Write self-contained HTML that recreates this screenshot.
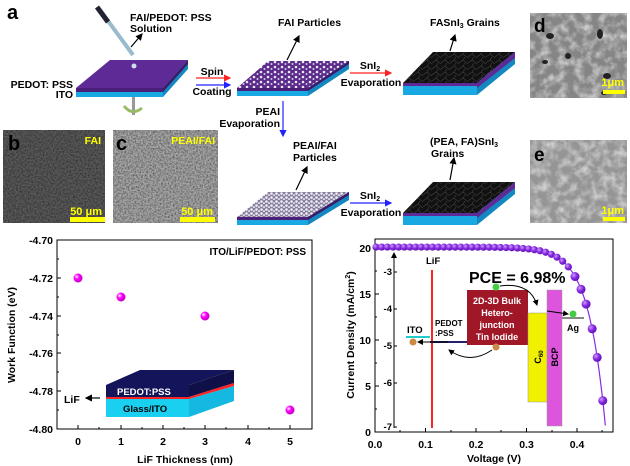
<!DOCTYPE html>
<html><head><meta charset="utf-8">
<style>
html,body{margin:0;padding:0;background:#fff;}
svg{display:block;font-family:"Liberation Sans",Arial,sans-serif;font-weight:bold;}
</style></head><body>
<svg id="s" width="630" height="466" viewBox="0 0 630 466" xmlns="http://www.w3.org/2000/svg">
<defs>
<filter id="noise" x="0" y="0" width="100%" height="100%">
<feTurbulence type="fractalNoise" baseFrequency="0.6" numOctaves="2" seed="3"/>
<feColorMatrix type="matrix" values="0 0 0 0 0  0 0 0 0 0  0 0 0 0 0  0 0 0 -0.9 0.6"/>
<feComposite in2="SourceGraphic" operator="in"/>
</filter>
<filter id="noise2" x="0" y="0" width="100%" height="100%">
<feTurbulence type="fractalNoise" baseFrequency="0.12" numOctaves="3" seed="7"/>
<feColorMatrix type="matrix" values="0 0 0 0 1  0 0 0 0 1  0 0 0 0 1  0 0 0 1.2 -0.45"/>
<feComposite in2="SourceGraphic" operator="in"/>
</filter>
<pattern id="pp" width="7" height="5" patternUnits="userSpaceOnUse">
<rect width="7" height="5" fill="#5b2a8c"/>
<circle cx="2" cy="2" r="1.3" fill="#e8e8f0"/><circle cx="5.5" cy="4" r="1" fill="#cfcfdf"/>
</pattern>
<pattern id="pp2" width="5" height="4" patternUnits="userSpaceOnUse">
<rect width="5" height="4" fill="#8a7fa0"/>
<circle cx="1.5" cy="1.5" r="1.3" fill="#f0f0f4"/><circle cx="4" cy="3.2" r="1.1" fill="#dcdce6"/>
</pattern>
<pattern id="gr" width="9" height="6" patternUnits="userSpaceOnUse">
<rect width="9" height="6" fill="#111"/>
<path d="M0 3 L4 0 M4 0 L9 4 M4 6 L6 3" stroke="#555" stroke-width="0.5" fill="none"/>
</pattern>
<marker id="ak" markerWidth="6" markerHeight="6" refX="5" refY="3" orient="auto"><path d="M0 0 L6 3 L0 6z" fill="#000"/></marker>
<marker id="ar" markerWidth="6" markerHeight="6" refX="5" refY="3" orient="auto"><path d="M0 0 L6 3 L0 6z" fill="#f22"/></marker>
<marker id="ab" markerWidth="6" markerHeight="6" refX="5" refY="3" orient="auto"><path d="M0 0 L6 3 L0 6z" fill="#22f"/></marker>
<radialGradient id="sph" cx="0.35" cy="0.35" r="0.7"><stop offset="0" stop-color="#fff"/><stop offset="0.4" stop-color="#f0f"/><stop offset="1" stop-color="#b0b"/></radialGradient>
<radialGradient id="vio" cx="0.35" cy="0.35" r="0.7"><stop offset="0" stop-color="#c9a0ff"/><stop offset="0.5" stop-color="#8a2be2"/><stop offset="1" stop-color="#5a10b0"/></radialGradient>
</defs>

<!-- ===== Panel a ===== -->
<text x="7" y="19" font-size="20">a</text>
<polygon points="76,88 110,60 188,60 163,88" fill="#5e2a95"/>
<rect x="76" y="88" width="87" height="4" fill="#4a1f7a"/>
<rect x="76" y="92" width="87" height="5" fill="#19a9e2"/>
<polygon points="163,88 188,60 188,69 163,97" fill="#1388c0"/>
<polygon points="163,88 188,60 188,64 163,92" fill="#3c1a6a"/>
<line x1="100" y1="10" x2="133" y2="55" stroke="#9bc" stroke-width="4"/>
<line x1="97" y1="7" x2="108" y2="22" stroke="#223" stroke-width="5"/>
<circle cx="134" cy="66" r="2.5" fill="#cde"/>
<rect x="132" y="97" width="3" height="18" fill="#999"/>
<path d="M124 106 Q132 116 142 108" stroke="#9b6" stroke-width="3" fill="none"/>
<line x1="131" y1="47" x2="142" y2="34" stroke="#000" stroke-width="1.2" marker-end="url(#ak)"/>
<text x="130" y="21" font-size="10.5">FAI/PEDOT: PSS</text>
<text x="130" y="32" font-size="10.5">Solution</text>
<text x="73" y="88" font-size="10.5" text-anchor="end">PEDOT: PSS</text>
<text x="73" y="98" font-size="10.5" text-anchor="end">ITO</text>
<text x="212" y="75" font-size="10.5" text-anchor="middle">Spin</text>
<line x1="196" y1="78" x2="230" y2="78" stroke="#f22" stroke-width="1.2" marker-end="url(#ar)"/>
<line x1="196" y1="85" x2="230" y2="85" stroke="#22f" stroke-width="1.2" marker-end="url(#ab)"/>
<text x="212" y="95" font-size="10.5" text-anchor="middle">Coating</text>
<polygon points="237,88 268,61 349,61 308,88" fill="url(#pp)"/>
<rect x="237" y="88" width="71" height="3" fill="#4a1f7a"/>
<rect x="237" y="91" width="71" height="5" fill="#19a9e2"/>
<polygon points="308,88 349,61 349,69 308,96" fill="#1388c0"/>
<polygon points="308,88 349,61 349,64 308,91" fill="#3c1a6a"/>
<line x1="287" y1="60" x2="299" y2="36" stroke="#000" stroke-width="1.2" marker-end="url(#ak)"/>
<text x="278" y="26" font-size="10.5">FAI Particles</text>
<line x1="283" y1="101" x2="283" y2="136" stroke="#22f" stroke-width="1.2" marker-end="url(#ab)"/>
<text x="280" y="115" font-size="10.5" text-anchor="end">PEAI</text>
<text x="280" y="127" font-size="10.5" text-anchor="end">Evaporation</text>
<polygon points="237,217 268,192 349,192 308,217" fill="url(#pp2)"/>
<rect x="237" y="217" width="71" height="3" fill="#4a1f7a"/>
<rect x="237" y="220" width="71" height="5" fill="#19a9e2"/>
<polygon points="308,217 349,192 349,200 308,225" fill="#1388c0"/>
<polygon points="308,217 349,192 349,195 308,220" fill="#3c1a6a"/>
<line x1="296" y1="190" x2="307" y2="167" stroke="#000" stroke-width="1.2" marker-end="url(#ak)"/>
<text x="293" y="149" font-size="10.5">PEAI/FAI</text>
<text x="293" y="161" font-size="10.5">Particles</text>
<text x="370" y="69" font-size="10.5" text-anchor="middle">SnI<tspan font-size="7" dy="2">2</tspan></text>
<line x1="350" y1="73" x2="391" y2="73" stroke="#f22" stroke-width="1.2" marker-end="url(#ar)"/>
<text x="371" y="86" font-size="10.5" text-anchor="middle">Evaporation</text>
<text x="370" y="199" font-size="10.5" text-anchor="middle">SnI<tspan font-size="7" dy="2">2</tspan></text>
<line x1="350" y1="203" x2="391" y2="203" stroke="#22f" stroke-width="1.2" marker-end="url(#ab)"/>
<text x="371" y="216" font-size="10.5" text-anchor="middle">Evaporation</text>
<polygon points="403,83 433,52 515,52 477,83" fill="url(#gr)"/>
<rect x="403" y="83" width="74" height="3" fill="#5e2a95"/>
<rect x="403" y="86" width="74" height="9" fill="#19a9e2"/>
<polygon points="477,83 515,52 515,64 477,95" fill="#1388c0"/>
<polygon points="477,83 515,52 515,58 477,88" fill="#5e2a95"/>
<line x1="450" y1="51" x2="455" y2="35" stroke="#000" stroke-width="1.2" marker-end="url(#ak)"/>
<text x="430" y="26" font-size="10.5">FASnI<tspan font-size="7" dy="2">3</tspan><tspan dy="-2"> Grains</tspan></text>
<polygon points="403,213 433,182 515,182 477,213" fill="url(#gr)"/>
<rect x="403" y="213" width="74" height="3" fill="#5e2a95"/>
<rect x="403" y="216" width="74" height="9" fill="#19a9e2"/>
<polygon points="477,213 515,182 515,194 477,225" fill="#1388c0"/>
<polygon points="477,213 515,182 515,188 477,218" fill="#5e2a95"/>
<line x1="450" y1="180" x2="454" y2="158" stroke="#000" stroke-width="1.2" marker-end="url(#ak)"/>
<text x="430" y="145" font-size="10.5">(PEA, FA)SnI<tspan font-size="7" dy="2">3</tspan></text>
<text x="431" y="157" font-size="10.5">Grains</text>
<!-- SEM images -->
<rect x="3" y="130" width="102" height="93" fill="#5a5a5a"/>
<rect x="3" y="130" width="102" height="93" fill="#5a5a5a" filter="url(#noise)"/>
<rect x="113" y="130" width="105" height="93" fill="#a8a8a8"/>
<rect x="113" y="130" width="105" height="93" fill="#a8a8a8" filter="url(#noise)"/>
<rect x="530" y="13" width="97" height="85" fill="#858585"/>
<rect x="530" y="13" width="97" height="85" fill="#858585" filter="url(#noise2)"/>
<rect x="530" y="140" width="97" height="83" fill="#959595"/>
<rect x="530" y="140" width="97" height="83" fill="#959595" filter="url(#noise2)"/>
<g fill="#222"><ellipse cx="550" cy="36" rx="4" ry="3"/><ellipse cx="600" cy="34" rx="3" ry="5"/><ellipse cx="545" cy="62" rx="3" ry="2"/><ellipse cx="568" cy="56" rx="3" ry="3"/><ellipse cx="607" cy="76" rx="4" ry="3"/><ellipse cx="604" cy="93" rx="3" ry="2"/></g>
<text x="8" y="150" font-size="20">b</text>
<text x="116" y="150" font-size="20">c</text>
<text x="534" y="32" font-size="19">d</text>
<text x="534" y="161" font-size="19">e</text>
<g fill="#ff0">
<text x="101" y="144" font-size="10.5" text-anchor="end">FAI</text>
<text x="215" y="144" font-size="10.5" text-anchor="end">PEAI/FAI</text>
<text x="102" y="215" font-size="11" text-anchor="end">50 μm</text>
<rect x="70" y="217" width="35" height="5"/>
<text x="213" y="215" font-size="11" text-anchor="end">50 μm</text>
<rect x="180" y="217" width="35" height="5"/>
<text x="624" y="86" font-size="11" text-anchor="end">1μm</text>
<rect x="603" y="90" width="22" height="4"/>
<text x="624" y="214" font-size="11" text-anchor="end">1μm</text>
<rect x="603" y="217" width="22" height="4"/>
</g>

<!-- ===== Left plot ===== -->
<g stroke="#000" stroke-width="1" fill="none">
<rect x="57" y="240" width="255" height="189"/>
<path d="M78 429v-4M121 429v-4M163 429v-4M205 429v-4M248 429v-4M290 429v-4M99 429v-2M142 429v-2M184 429v-2M226 429v-2M269 429v-2"/>
<path d="M57 240h4M57 278h4M57 316h4M57 353h4M57 391h4M57 429h4M57 259h2M57 297h2M57 335h2M57 372h2M57 410h2"/>
</g>
<g font-size="10.5" text-anchor="end">
<text x="53" y="244">-4.70</text><text x="53" y="282">-4.72</text><text x="53" y="320">-4.74</text><text x="53" y="357">-4.76</text><text x="53" y="395">-4.78</text><text x="53" y="433">-4.80</text>
</g>
<g font-size="10.5" text-anchor="middle">
<text x="78" y="445">0</text><text x="121" y="445">1</text><text x="163" y="445">2</text><text x="205" y="445">3</text><text x="248" y="445">4</text><text x="290" y="445">5</text>
<text x="185" y="463">LiF Thickness (nm)</text>
</g>
<text transform="translate(15,335) rotate(-90)" font-size="10.5" text-anchor="middle">Work Function (eV)</text>
<text x="306" y="255" font-size="10" text-anchor="end">ITO/LiF/PEDOT: PSS</text>
<g fill="url(#sph)"><circle cx="78" cy="278" r="4.5"/><circle cx="121" cy="297" r="4.5"/><circle cx="205" cy="316" r="4.5"/><circle cx="290" cy="410" r="4.5"/></g>
<polygon points="106,385 140,370 234,370 189,385" fill="#14145a"/>
<rect x="106" y="385" width="83" height="12" fill="#14145a"/>
<rect x="106" y="397" width="83" height="2" fill="#f22"/>
<rect x="106" y="399" width="83" height="18" fill="#19d0f0"/>
<polygon points="189,385 234,370 234,383 189,397" fill="#101048"/>
<polygon points="189,397 234,383 234,386 189,399" fill="#f22"/>
<polygon points="189,399 234,386 234,401 189,417" fill="#14b8e0"/>
<text x="117" y="395" font-size="9.5" fill="#fff">PEDOT:PSS</text>
<text x="123" y="412" font-size="9.5" fill="#000">Glass/ITO</text>
<text x="64" y="403" font-size="10.5">LiF</text>
<line x1="100" y1="398" x2="86" y2="398" stroke="#000" stroke-width="1.2" marker-end="url(#ak)"/>

<!-- ===== Right plot ===== -->
<g stroke="#000" stroke-width="1" fill="none">
<rect x="375" y="239" width="238" height="193"/>
<path d="M375 432v-4M425.5 432v-4M476 432v-4M526.5 432v-4M577 432v-4M400 432v-2M451 432v-2M501 432v-2M552 432v-2M602 432v-2"/>
<path d="M375 248h4M375 294h4M375 340h4M375 386h4M375 432h4M375 271h2M375 317h2M375 363h2M375 409h2"/>
</g>
<g font-size="10.5" text-anchor="end">
<text x="371" y="252">20</text><text x="371" y="298">15</text><text x="371" y="344">10</text><text x="371" y="390">5</text><text x="371" y="436">0</text>
</g>
<g font-size="10.5" text-anchor="middle">
<text x="375" y="448">0.0</text><text x="425.5" y="448">0.1</text><text x="476" y="448">0.2</text><text x="526.5" y="448">0.3</text><text x="577" y="448">0.4</text>
<text x="494" y="462">Voltage (V)</text>
</g>
<text transform="translate(354,335) rotate(-90)" font-size="10.5" text-anchor="middle">Current Density (mA/cm<tspan font-size="7" dy="-4">2</tspan><tspan dy="4">)</tspan></text>
<line x1="394" y1="428" x2="394" y2="253" stroke="#000" stroke-width="1" marker-end="url(#ak)"/>
<g stroke="#000"><path d="M394 272h3M394 309h3M394 346h3M394 383h3M394 427h3"/></g>
<g font-size="9.5" text-anchor="end">
<text x="392" y="275">-3</text><text x="392" y="312">-4</text><text x="392" y="349">-5</text><text x="392" y="386">-6</text><text x="392" y="430">-7</text>
</g>
<line x1="432" y1="270" x2="432" y2="428" stroke="#f22" stroke-width="2"/>
<text x="426" y="264" font-size="9.5">LiF</text>
<line x1="406" y1="337" x2="430" y2="337" stroke="#2cc" stroke-width="2"/>
<text x="407" y="333" font-size="9.5">ITO</text>
<line x1="430" y1="342" x2="468" y2="342" stroke="#22226a" stroke-width="2"/>
<text x="435" y="326" font-size="8">PEDOT</text>
<text x="435" y="336" font-size="8">:PSS</text>
<rect x="467" y="290" width="61" height="55" fill="#a01828"/>
<g font-size="9" fill="#fff" text-anchor="middle">
<text x="497" y="304">2D-3D Bulk</text><text x="497" y="316">Hetero-</text><text x="497" y="328">junction</text><text x="497" y="340">Tin Iodide</text>
</g>
<rect x="528" y="313" width="19" height="89" fill="#f0f000" stroke="#999" stroke-width="0.5"/>
<rect x="547" y="290" width="15" height="136" fill="#dd55dd" stroke="#999" stroke-width="0.5"/>
<text transform="translate(541,357) rotate(-90)" font-size="9" text-anchor="middle">C<tspan font-size="6" dy="2">60</tspan></text>
<text transform="translate(558,357) rotate(-90)" font-size="9" text-anchor="middle">BCP</text>
<line x1="562" y1="318" x2="584" y2="318" stroke="#888" stroke-width="2"/>
<text x="567" y="331" font-size="9">Ag</text>
<text x="469" y="283" font-size="16">PCE = 6.98%</text>
<circle cx="496" cy="287" r="3.5" fill="#4c4"/><circle cx="573" cy="314" r="3.5" fill="#4c4"/>
<circle cx="496" cy="347" r="3.5" fill="#c84"/><circle cx="413" cy="342" r="3.5" fill="#c84"/>
<path d="M500 286 Q530 282 537 305" stroke="#000" fill="none" marker-end="url(#ak)"/>
<line x1="547" y1="311" x2="568" y2="314" stroke="#000" marker-end="url(#ak)"/>
<path d="M492 350 Q470 365 449 350" stroke="#000" fill="none" marker-end="url(#ak)"/>
<line x1="448" y1="342" x2="418" y2="342" stroke="#000" marker-end="url(#ak)"/>
<g id="jv"></g>
</svg>
<script>
(function(){
var g=document.getElementById('jv'),ns='http://www.w3.org/2000/svg';
function J(v){return 20.1-3.2*Math.exp((v-0.396)/0.0333);}
var pts=[];for(var v=0;v<=0.462;v+=0.002){var j=J(v);if(j<0)break;pts.push((375+v*505).toFixed(1)+','+(432-j*9.2).toFixed(1));}
var pl=document.createElementNS(ns,'polyline');pl.setAttribute('points',pts.join(' '));pl.setAttribute('fill','none');pl.setAttribute('stroke','#8a2be2');pl.setAttribute('stroke-width','1.2');g.appendChild(pl);
var vs=[];for(var v=0.002;v<0.39;v+=0.0112)vs.push(v);vs.push(0.396,0.408,0.418,0.430,0.440,0.451);
vs.forEach(function(v){var c=document.createElementNS(ns,'circle');c.setAttribute('cx',375+v*505);c.setAttribute('cy',432-J(v)*9.2);c.setAttribute('r',v>0.39?4.5:3.6);c.setAttribute('fill','url(#vio)');g.appendChild(c);});
})();
</script>
</body></html>
